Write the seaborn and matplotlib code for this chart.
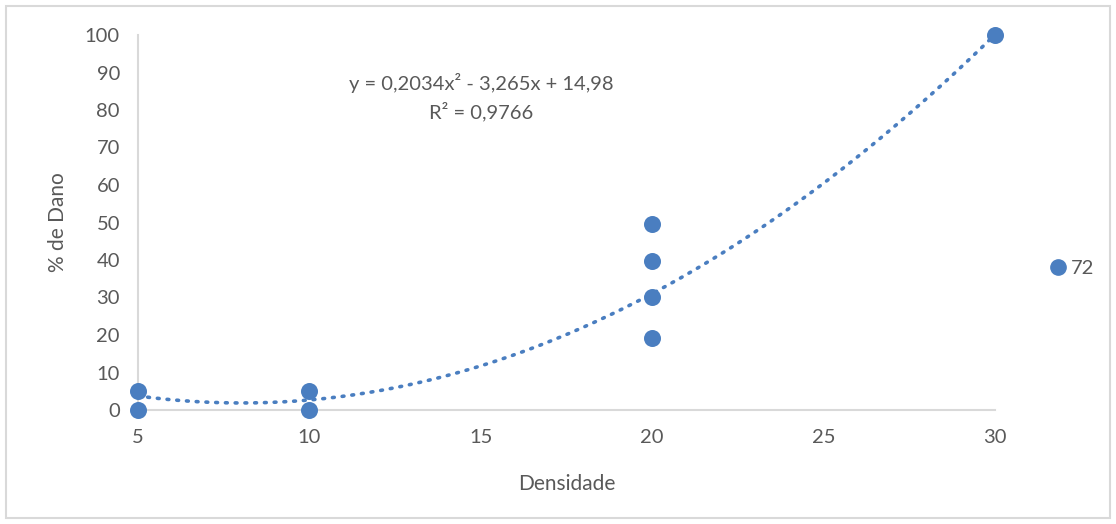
import numpy as np
import pandas as pd
import matplotlib
matplotlib.use("Agg")
import matplotlib.pyplot as plt
import seaborn as sns
from matplotlib.patches import Rectangle
from matplotlib.lines import Line2D

# Observations: damage (%) by density
densidade = [5, 5, 10, 10, 20, 20, 20, 20, 30]
dano = [5, 0, 5, 0, 49.5, 39.7, 30.2, 19.3, 100]
serie = "72"

# Second-order polynomial trendline coefficients
coef_a, coef_b, coef_c = 0.2034, -3.265, 14.98
r2_label = "R² = 0,9766"
eq_label = "y = 0,2034x² - 3,265x + 14,98"

x_ticks = [5, 10, 15, 20, 25, 30]
y_ticks = list(range(0, 101, 10))

sns.set_theme(style="white")
plt.rcParams["font.family"] = ["Lato", "DejaVu Sans"]

blue = "#4A7EC0"
text_gray = "#595959"
axis_gray = "#D9D9D9"

fig = plt.figure(figsize=(11.16, 5.24), dpi=100)
ax = fig.add_axes([138 / 1116, 1 - 410 / 524, (995 - 138) / 1116, (410 - 35) / 524])

df = pd.DataFrame({"Densidade": densidade, "Dano": dano})

# trendline
xs = np.linspace(5, 30, 300)
ys = coef_a * xs**2 + coef_b * xs + coef_c
sns.lineplot(x=xs, y=ys, ax=ax, color=blue, lw=2.6,
             linestyle=(0, (0.5, 2.2)), dash_capstyle="round", zorder=2)

sns.scatterplot(data=df, x="Densidade", y="Dano", ax=ax, color=blue,
                s=150, edgecolor=blue, linewidth=0, zorder=3, clip_on=False)
for c in ax.collections:
    c.set_clip_on(False)

ax.set_xlim(5, 30)
ax.set_ylim(0, 100)
ax.set_xticks(x_ticks)
ax.set_yticks(y_ticks)
ax.tick_params(axis="both", length=0, labelsize=14.5, colors=text_gray)
ax.tick_params(axis="x", pad=14)
ax.tick_params(axis="y", pad=13)
for s in ["top", "right"]:
    ax.spines[s].set_visible(False)
for s in ["left", "bottom"]:
    ax.spines[s].set_color(axis_gray)
    ax.spines[s].set_linewidth(1.5)
ax.grid(False)

ax.set_xlabel("Densidade", fontsize=15, color=text_gray, labelpad=20)
ax.set_ylabel("% de Dano", fontsize=15, color=text_gray, labelpad=12)

fig.text(481 / 1116, 1 - 83 / 524, eq_label, ha="center", va="center",
         fontsize=14.5, color=text_gray)
fig.text(481 / 1116, 1 - 112 / 524, r2_label, ha="center", va="center",
         fontsize=14.5, color=text_gray)

# legend
handle = Line2D([], [], marker="o", linestyle="none", color=blue, markersize=11)
leg = fig.legend([handle], [serie], loc="center left",
                 bbox_to_anchor=(1028 / 1116, 1 - 268 / 524), frameon=False,
                 fontsize=14.5, handletextpad=0.05, handlelength=1.2)
for t in leg.get_texts():
    t.set_color(text_gray)

# chart border
fig.patches.append(Rectangle((6 / 1116, 6 / 524), 1 - 12 / 1116, 1 - 12 / 524,
                             transform=fig.transFigure, fill=False,
                             edgecolor="#D9D9D9", linewidth=1.5))

fig.savefig("out.png", dpi=100)
